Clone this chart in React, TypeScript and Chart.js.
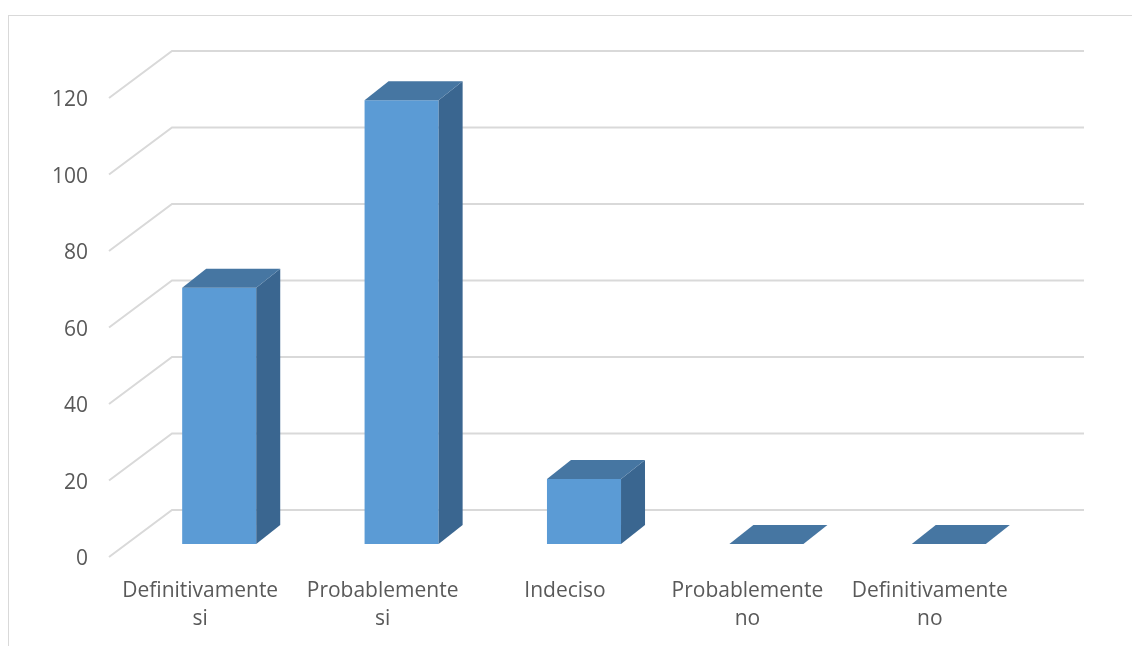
import React, { useEffect, useRef } from "react";
import { Chart, registerables } from "chart.js";

Chart.register(...registerables);

// Survey answers (category labels split over two lines)
const categories: string[][] = [
  ["Definitivamente", "si"],
  ["Probablemente", "si"],
  ["Indeciso"],
  ["Probablemente", "no"],
  ["Definitivamente", "no"],
];
const respuestas: number[] = [67, 116, 17, 0, 0];
const yMin = 0;
const yMax = 120;
const yStep = 20;

// Pseudo-3D geometry
const WALL_DX = 63;
const WALL_DY = -47;
const BAR_SHIFT_X = 19;
const BAR_SHIFT_Y = -13;
const BAR_DX = 24;
const BAR_DY = -19;

const FRONT = "#5B9BD5";
const TOP = "#4676A2";
const SIDE = "#3A6690";
const GRID = "#D9D9D9";
const TEXT = "#595959";

const CANVAS_W = 1132;
const CANVAS_H = 646;

const pseudo3d = {
  id: "pseudo3d",
  beforeDatasetsDraw(chart: any) {
    const { ctx, chartArea } = chart;
    const y = chart.scales.y;
    ctx.save();
    ctx.strokeStyle = GRID;
    ctx.lineWidth = 2;
    y.ticks.forEach((t: any) => {
      const py = y.getPixelForValue(t.value);
      ctx.beginPath();
      ctx.moveTo(chartArea.left, py);
      ctx.lineTo(chartArea.left + WALL_DX, py + WALL_DY);
      ctx.lineTo(chartArea.right + WALL_DX, py + WALL_DY);
      ctx.stroke();
    });
    ctx.restore();
    // front faces of the bars sit a little into the depth of the floor
    ctx.save();
    ctx.translate(BAR_SHIFT_X, BAR_SHIFT_Y);
  },
  afterDatasetsDraw(chart: any) {
    const ctx = chart.ctx;
    const meta = chart.getDatasetMeta(0);
    meta.data.forEach((bar: any) => {
      const { x, y, base, width } = bar.getProps(["x", "y", "base", "width"], true);
      const l = x - width / 2;
      const r = x + width / 2;
      // side face
      if (base - y > 0.5) {
        ctx.beginPath();
        ctx.moveTo(r, y);
        ctx.lineTo(r + BAR_DX, y + BAR_DY);
        ctx.lineTo(r + BAR_DX, base + BAR_DY);
        ctx.lineTo(r, base);
        ctx.closePath();
        ctx.fillStyle = SIDE;
        ctx.fill();
      }
      // top face
      ctx.beginPath();
      ctx.moveTo(l, y);
      ctx.lineTo(l + BAR_DX, y + BAR_DY);
      ctx.lineTo(r + BAR_DX, y + BAR_DY);
      ctx.lineTo(r, y);
      ctx.closePath();
      ctx.fillStyle = TOP;
      ctx.fill();
    });
    ctx.restore();
  },
};

export default function App() {
  const canvasRef = useRef<HTMLCanvasElement | null>(null);

  useEffect(() => {
    document.body.style.overflow = "hidden";
    const canvas = canvasRef.current;
    if (!canvas) return;
    const chart = new Chart(canvas, {
      type: "bar",
      data: {
        labels: categories,
        datasets: [
          {
            data: respuestas,
            backgroundColor: FRONT,
            borderWidth: 0,
            categoryPercentage: 1,
            barPercentage: 0.406,
            clip: false as any,
          },
        ],
      },
      options: {
        responsive: false,
        animation: false,
        devicePixelRatio: 1,
        layout: { padding: { left: 0, top: 98, right: 111, bottom: 0 } },
        plugins: {
          legend: { display: false },
          tooltip: { enabled: false },
        },
        scales: {
          x: {
            grid: { display: false, drawTicks: false },
            border: { display: false },
            ticks: {
              color: TEXT,
              padding: 19.5,
              maxRotation: 0,
              autoSkip: false,
              font: { family: "'Open Sans', sans-serif", size: 21, lineHeight: 1.36 },
            },
            afterFit: (scale: any) => {
              scale.height = 89;
            },
          },
          y: {
            min: yMin,
            max: yMax,
            grid: { display: false, drawTicks: false },
            border: { display: false },
            ticks: {
              stepSize: yStep,
              color: TEXT,
              padding: 21,
              labelOffset: 2.5,
              font: { family: "'Open Sans', sans-serif", size: 21 },
            },
            afterFit: (scale: any) => {
              scale.width = 109;
            },
          },
        },
      },
      plugins: [pseudo3d],
    });
    return () => chart.destroy();
  }, []);

  return (
    <>
      <div
        style={{
          position: "fixed",
          left: 8,
          top: 15,
          width: 1300,
          height: 800,
          borderTop: "1px solid #D9D9D9",
          borderLeft: "1px solid #D9D9D9",
        }}
      />
      <canvas
        ref={canvasRef}
        width={CANVAS_W}
        height={CANVAS_H}
        style={{ position: "fixed", left: 0, top: 0, width: CANVAS_W, height: CANVAS_H }}
      />
    </>
  );
}
